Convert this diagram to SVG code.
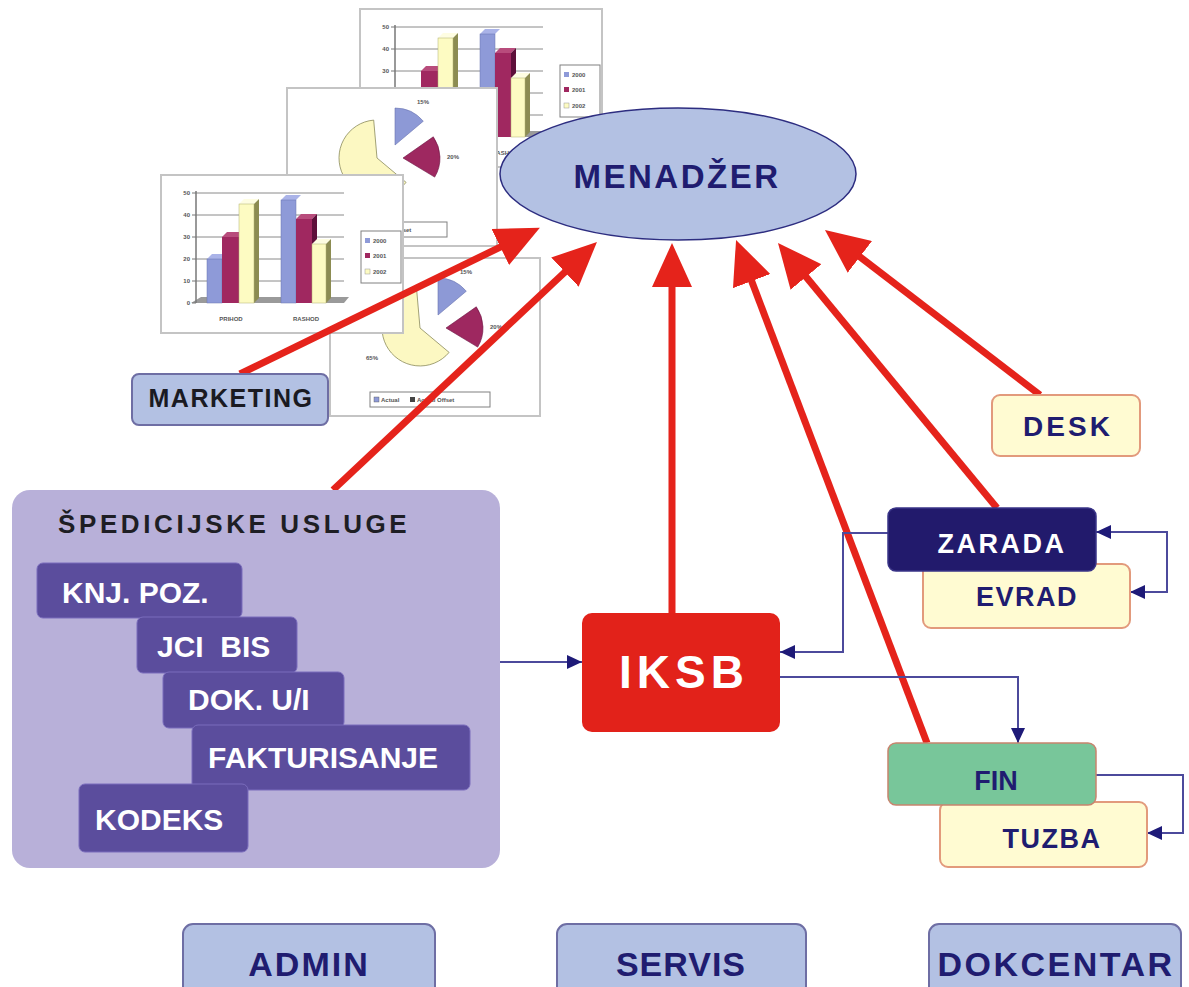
<svg xmlns="http://www.w3.org/2000/svg" xmlns:xlink="http://www.w3.org/1999/xlink" width="1189" height="987" viewBox="0 0 1189 987">
<style>
.t{font-family:"Liberation Sans",Arial,sans-serif;font-weight:bold}
.navy{fill:#201c70}
.wh{fill:#ffffff}
.frame{fill:#ffffff;stroke:#c4c4c4;stroke-width:2}
.grid{stroke:#8a8a8a;stroke-width:1}
.ct{font-family:"Liberation Sans",Arial,sans-serif;font-weight:bold;font-size:6px;fill:#555}
.red{stroke:#e5231b;stroke-width:7;fill:none;marker-end:url(#rh)}
.thin{stroke:#4c4a9c;stroke-width:2;fill:none;marker-end:url(#nh)}
.sub{fill:#5b4d9d;stroke:#7a6cbc;stroke-width:1}
.sub-t{font-family:"Liberation Sans",Arial,sans-serif;font-weight:bold;font-size:30px;fill:#ffffff}
.blue{fill:#b3c1e3;stroke:#6e6ea4;stroke-width:2}
.yel{fill:#fffbd2;stroke:#e29a7c;stroke-width:2}
</style>
<defs>
<marker id="rh" markerUnits="userSpaceOnUse" markerWidth="44" markerHeight="40" refX="14" refY="20" orient="auto">
<path d="M0,0 L44,20 L0,40 z" fill="#e5231b"/>
</marker>
<marker id="nh" markerUnits="userSpaceOnUse" markerWidth="15" markerHeight="14" refX="15" refY="7" orient="auto">
<path d="M0,0 L15,7 L0,14 z" fill="#1e1a78"/>
</marker>
<g id="barchart">
<rect class="frame" x="0" y="0" width="242" height="158"/>
<path class="grid" d="M35,18H183M35,40H183M35,62H183M35,84H183M35,106H183"/>
<path d="M30,128 L40,122 H188 L183,128 Z" fill="#9a9a9a"/>
<path d="M35,16V128" stroke="#777" stroke-width="1.5"/>
<path d="M31,18H35M31,40H35M31,62H35M31,84H35M31,106H35M31,128H35" stroke="#777"/>
<text class="ct" x="29" y="20" text-anchor="end">50</text>
<text class="ct" x="29" y="42" text-anchor="end">40</text>
<text class="ct" x="29" y="64" text-anchor="end">30</text>
<text class="ct" x="29" y="86" text-anchor="end">20</text>
<text class="ct" x="29" y="108" text-anchor="end">10</text>
<text class="ct" x="29" y="130" text-anchor="end">0</text>
<path d="M46,84 L51,79 H66 L61,84 Z" fill="#aab3e8"/>
<rect x="46" y="84" width="15" height="44" fill="#8e9ad8" stroke="#6a74b0" stroke-width="0.5"/>
<path d="M61,62 L66,57 H83 L78,62 Z" fill="#b84c7c"/>
<path d="M78,62 L83,57 V123 L78,128 Z" fill="#5e0f3a"/>
<rect x="61" y="62" width="17" height="66" fill="#a02860"/>
<path d="M78,29 L83,24 H98 L93,29 Z" fill="#fefde2"/>
<path d="M93,29 L98,24 V123 L93,128 Z" fill="#8c8c52"/>
<rect x="78" y="29" width="15" height="99" fill="#fdfbc2" stroke="#b0ae70" stroke-width="0.5"/>
<path d="M120,25 L125,20 H140 L135,25 Z" fill="#aab3e8"/>
<rect x="120" y="25" width="15" height="103" fill="#8e9ad8" stroke="#6a74b0" stroke-width="0.5"/>
<path d="M135,44 L140,39 H156 L151,44 Z" fill="#b84c7c"/>
<path d="M151,44 L156,39 V123 L151,128 Z" fill="#5e0f3a"/>
<rect x="135" y="44" width="16" height="84" fill="#a02860"/>
<path d="M151,69 L156,64 H170 L165,69 Z" fill="#fefde2"/>
<path d="M165,69 L170,64 V123 L165,128 Z" fill="#8c8c52"/>
<rect x="151" y="69" width="14" height="59" fill="#fdfbc2" stroke="#b0ae70" stroke-width="0.5"/>
<text class="ct" x="70" y="146" text-anchor="middle">PRIHOD</text>
<text class="ct" x="145" y="146" text-anchor="middle">RASHOD</text>
<rect x="200" y="56" width="40" height="52" fill="#fff" stroke="#808080" stroke-width="1"/>
<rect x="204" y="63" width="5" height="5" fill="#8e9ad8"/>
<text class="ct" x="212" y="68">2000</text>
<rect x="204" y="78" width="5" height="5" fill="#a02860"/>
<text class="ct" x="212" y="83">2001</text>
<rect x="204" y="94" width="5" height="5" fill="#fdfbc2" stroke="#999" stroke-width="0.5"/>
<text class="ct" x="212" y="99">2002</text>
</g>
<g id="piechart">
<rect class="frame" x="0" y="0" width="210" height="158"/>
<path d="M108,57 L108,20 A37,37 0 0,1 136.3,33.2 Z" fill="#8d99d6" stroke="#6a74b0" stroke-width="0.6"/>
<path d="M116,70 L146.3,48.8 A37,37 0 0,1 147.7,89.1 Z" fill="#9e2860" stroke="#6a1040" stroke-width="0.6"/>
<path d="M90,70 L119.1,94.4 A38,38 0 1,1 86.7,32.1 Z" fill="#fcf8c2" stroke="#8a8a5a" stroke-width="0.8"/>
<text class="ct" x="136" y="16" text-anchor="middle">15%</text>
<text class="ct" x="166" y="71" text-anchor="middle">20%</text>
<text class="ct" x="42" y="102" text-anchor="middle">65%</text>
<rect x="40" y="134" width="120" height="15" fill="#fff" stroke="#808080" stroke-width="1"/>
<rect x="44" y="139" width="5" height="5" fill="#8e9ad8" stroke="#555" stroke-width="0.4"/>
<text class="ct" x="51" y="144" font-size="5">Actual</text>
<rect x="80" y="139" width="5" height="5" fill="#444"/>
<text class="ct" x="87" y="144" font-size="5">Actual Offset</text>
</g>
</defs>

<rect width="1189" height="987" fill="#ffffff"/>

<g id="charts">
<use xlink:href="#barchart" x="360" y="9"/>
<use xlink:href="#piechart" x="287" y="88"/>
<use xlink:href="#piechart" x="330" y="258"/>
<use xlink:href="#barchart" x="161" y="175"/>
</g>

<g id="menadzer">
<ellipse cx="678" cy="174" rx="178" ry="66" fill="#b3c1e3" stroke="#2d2d80" stroke-width="1.5"/>
<text class="t navy" x="677" y="188" font-size="33" letter-spacing="2.5" text-anchor="middle">MENADŽER</text>
</g>

<g id="connectors">
<line class="red" x1="240" y1="374" x2="512.9" y2="240.9"/>
<line class="red" x1="333" y1="490" x2="575.1" y2="262.5"/>
<line class="red" x1="672" y1="613" x2="672" y2="273"/>
<line class="red" x1="927" y1="743" x2="746.7" y2="268"/>
<line class="red" x1="997" y1="508" x2="797.1" y2="266.1"/>
<line class="red" x1="1040" y1="395" x2="848.8" y2="248.3"/>
<path class="thin" d="M500,662 H582"/>
<path class="thin" d="M888,533 H843 V652 H780"/>
<path class="thin" d="M780,677 H1018 V743"/>
<path class="thin" d="M1167,562 V532 H1096"/>
<path class="thin" d="M1167,562 V592 H1130"/>
<path class="thin" d="M1096,775 H1183 V833 H1147"/>
</g>

<g id="marketing">
<rect class="blue" x="132" y="374" width="196" height="51" rx="7"/>
<text class="t" x="231" y="407" font-size="25" letter-spacing="1.5" text-anchor="middle" fill="#1a1a22">MARKETING</text>
</g>

<g id="desk">
<rect class="yel" x="992" y="395" width="148" height="61" rx="8"/>
<text class="t navy" x="1068" y="436" font-size="28" letter-spacing="3" text-anchor="middle">DESK</text>
</g>

<g id="evrad">
<rect class="yel" x="923" y="564" width="207" height="64" rx="8"/>
<text class="t navy" x="1027" y="606" font-size="27" letter-spacing="1.5" text-anchor="middle">EVRAD</text>
</g>
<g id="zarada">
<rect x="888" y="508" width="208" height="63" rx="8" fill="#221a6c" stroke="#3a3488" stroke-width="1.5"/>
<text class="t wh" x="1002" y="553" font-size="27" letter-spacing="2.5" text-anchor="middle">ZARADA</text>
</g>

<g id="iksb">
<rect x="582" y="613" width="198" height="119" rx="10" fill="#e2221a"/>
<text class="t wh" x="684" y="688" font-size="46" letter-spacing="5" text-anchor="middle">IKSB</text>
</g>

<g id="tuzba">
<rect class="yel" x="940" y="802" width="207" height="65" rx="8"/>
<text class="t navy" x="1052" y="848" font-size="27" letter-spacing="1.5" text-anchor="middle">TUZBA</text>
</g>
<g id="fin">
<rect x="888" y="743" width="208" height="62" rx="8" fill="#78c69a" stroke="#c8846e" stroke-width="1.5"/>
<text class="t navy" x="996" y="790" font-size="27" text-anchor="middle">FIN</text>
</g>

<g id="spedicija">
<rect x="12" y="490" width="488" height="378" rx="18" fill="#b8b0d9"/>
<text class="t" x="58" y="533" font-size="26" letter-spacing="3.6" fill="#1e1e24">ŠPEDICIJSKE USLUGE</text>
<g id="knjpoz">
<rect class="sub" x="37" y="563" width="205" height="55" rx="6"/>
<text class="sub-t" x="62" y="603">KNJ. POZ.</text>
</g>
<g id="jcibis">
<rect class="sub" x="137" y="617" width="160" height="56" rx="6"/>
<text class="sub-t" x="157" y="657" style="white-space:pre">JCI  BIS</text>
</g>
<g id="doku">
<rect class="sub" x="163" y="672" width="181" height="56" rx="6"/>
<text class="sub-t" x="188" y="710">DOK. U/I</text>
</g>
<g id="fakturisanje">
<rect class="sub" x="192" y="725" width="278" height="65" rx="6"/>
<text class="sub-t" x="208" y="768">FAKTURISANJE</text>
</g>
<g id="kodeks">
<rect class="sub" x="79" y="784" width="169" height="68" rx="6"/>
<text class="sub-t" x="95" y="830">KODEKS</text>
</g>
</g>

<g id="admin">
<rect class="blue" x="183" y="924" width="252" height="80" rx="10"/>
<text class="t navy" x="309" y="976" font-size="34" letter-spacing="2" text-anchor="middle">ADMIN</text>
</g>
<g id="servis">
<rect class="blue" x="557" y="924" width="249" height="80" rx="10"/>
<text class="t navy" x="681" y="976" font-size="34" letter-spacing="1" text-anchor="middle">SERVIS</text>
</g>
<g id="dokcentar">
<rect class="blue" x="929" y="924" width="252" height="80" rx="10"/>
<text class="t navy" x="1056" y="976" font-size="34" letter-spacing="2.5" text-anchor="middle">DOKCENTAR</text>
</g>
</svg>
